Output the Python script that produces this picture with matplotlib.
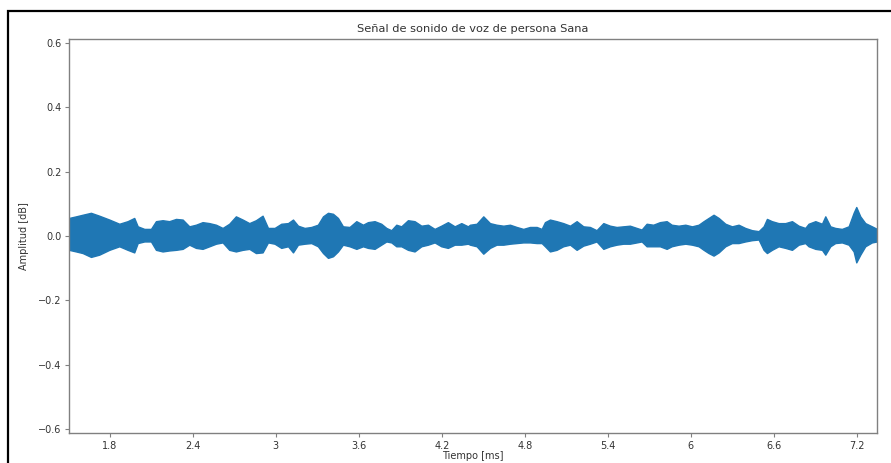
import matplotlib
matplotlib.use("Agg")
import matplotlib.pyplot as plt
from matplotlib.patches import Rectangle

# Time axis (ms) and the amplitude envelope of the recorded voice signal
tiempo = [
    1.504, 1.555, 1.603, 1.663, 1.723, 1.796, 1.868, 1.928, 1.976, 2.001,
    2.049, 2.097, 2.133, 2.181, 2.229, 2.278, 2.326, 2.374, 2.422, 2.470,
    2.519, 2.567, 2.615, 2.663, 2.711, 2.760, 2.808, 2.856, 2.904,
    2.943, 2.991, 3.039, 3.088, 3.124, 3.160, 3.208, 3.256, 3.304, 3.341,
    3.377, 3.413, 3.449, 3.485, 3.533, 3.582, 3.630, 3.666, 3.714, 3.762,
    3.799, 3.835, 3.871, 3.907, 3.955, 4.003, 4.052, 4.100, 4.148, 4.196,
    4.244, 4.293, 4.341, 4.389,
    4.404, 4.452, 4.500, 4.548, 4.596, 4.645, 4.693, 4.741, 4.789, 4.837,
    4.886, 4.922, 4.946, 4.982, 5.030, 5.078, 5.127, 5.175, 5.223, 5.271,
    5.319, 5.368, 5.416, 5.464, 5.512, 5.560, 5.609, 5.645, 5.681, 5.729,
    5.777, 5.826, 5.862,
    5.912, 5.961, 6.009, 6.057, 6.093, 6.129, 6.165, 6.202, 6.250, 6.298,
    6.346, 6.394, 6.443, 6.491, 6.527, 6.551, 6.587, 6.635, 6.684, 6.732,
    6.780, 6.828, 6.852, 6.901, 6.949, 6.973, 7.009, 7.045, 7.093, 7.142,
    7.178, 7.197, 7.226, 7.262, 7.310, 7.347,
]

amplitud_max = [
    0.056, 0.061, 0.066, 0.072, 0.063, 0.051, 0.038, 0.046, 0.056, 0.030,
    0.022, 0.022, 0.046, 0.049, 0.046, 0.053, 0.051, 0.030, 0.035, 0.043,
    0.040, 0.035, 0.025, 0.038, 0.061, 0.051, 0.040, 0.049, 0.063,
    0.025, 0.025, 0.038, 0.040, 0.051, 0.032, 0.025, 0.028, 0.035, 0.061,
    0.072, 0.069, 0.056, 0.030, 0.028, 0.046, 0.035, 0.043, 0.046, 0.038,
    0.025, 0.018, 0.035, 0.030, 0.049, 0.046, 0.032, 0.035, 0.022, 0.032,
    0.043, 0.030, 0.040, 0.030,
    0.035, 0.038, 0.061, 0.040, 0.035, 0.032, 0.035, 0.028, 0.022, 0.028,
    0.028, 0.022, 0.043, 0.051, 0.046, 0.040, 0.032, 0.046, 0.030, 0.028,
    0.018, 0.040, 0.032, 0.028, 0.030, 0.032, 0.025, 0.020, 0.038, 0.035,
    0.043, 0.046, 0.035,
    0.032, 0.035, 0.030, 0.035, 0.046, 0.056, 0.066, 0.056, 0.038, 0.030,
    0.035, 0.025, 0.018, 0.015, 0.030, 0.053, 0.046, 0.040, 0.040, 0.046,
    0.032, 0.025, 0.038, 0.046, 0.038, 0.061, 0.030, 0.025, 0.022, 0.030,
    0.072, 0.090, 0.061, 0.040, 0.030, 0.022,
]

amplitud_min = [
    -0.043, -0.048, -0.053, -0.065, -0.058, -0.043, -0.032, -0.043, -0.051, -0.022,
    -0.017, -0.017, -0.043, -0.048, -0.045, -0.043, -0.040, -0.027, -0.037, -0.040,
    -0.032, -0.024, -0.020, -0.043, -0.048, -0.043, -0.040, -0.053, -0.051,
    -0.020, -0.024, -0.037, -0.032, -0.051, -0.027, -0.024, -0.022, -0.032, -0.053,
    -0.068, -0.063, -0.048, -0.027, -0.032, -0.040, -0.032, -0.037, -0.040, -0.027,
    -0.017, -0.020, -0.032, -0.032, -0.043, -0.048, -0.032, -0.027, -0.020, -0.032,
    -0.037, -0.027, -0.027, -0.024,
    -0.027, -0.032, -0.055, -0.037, -0.027, -0.027, -0.024, -0.022, -0.020, -0.020,
    -0.022, -0.022, -0.032, -0.048, -0.043, -0.032, -0.027, -0.043, -0.030, -0.024,
    -0.017, -0.040, -0.032, -0.027, -0.024, -0.024, -0.020, -0.017, -0.032, -0.032,
    -0.032, -0.040, -0.032,
    -0.027, -0.024, -0.027, -0.032, -0.043, -0.053, -0.061, -0.051, -0.032, -0.022,
    -0.022, -0.017, -0.013, -0.011, -0.043, -0.053, -0.043, -0.032, -0.037, -0.043,
    -0.027, -0.022, -0.032, -0.040, -0.043, -0.058, -0.032, -0.022, -0.020, -0.027,
    -0.048, -0.082, -0.058, -0.032, -0.020, -0.017,
]

xticks = [1.8, 2.4, 3.0, 3.6, 4.2, 4.8, 5.4, 6.0, 6.6, 7.2]
xtick_labels = ["1.8", "2.4", "3", "3.6", "4.2", "4.8", "5.4", "6", "6.6", "7.2"]
yticks = [-0.6, -0.4, -0.2, 0.0, 0.2, 0.4, 0.6]

plt.rcParams["font.family"] = ["DejaVu Sans"]
text_color = "#333333"
spine_color = "#808080"

fig = plt.figure(figsize=(8.91, 4.63), dpi=100)
ax = fig.add_axes([0.0774, 0.0648, 0.9069, 0.851])

color = "#1f77b4"
ax.fill_between(tiempo, amplitud_min, amplitud_max, color=color, linewidth=1.0,
                edgecolor=color)

ax.set_xlim(tiempo[0], tiempo[-1])
ax.set_ylim(-0.612, 0.612)
ax.set_xticks(xticks, xtick_labels)
ax.set_yticks(yticks)

ax.set_title("Señal de sonido de voz de persona Sana", fontsize=8.2, color=text_color, pad=5)
ax.set_xlabel("Tiempo [ms]", fontsize=7, color=text_color, labelpad=0.5)
ax.set_ylabel("Amplitud [dB]", fontsize=7, color=text_color, labelpad=6)

ax.tick_params(axis="both", labelsize=7, colors=text_color, length=3, width=0.8,
               color=spine_color, pad=2.5)
for s in ax.spines.values():
    s.set_color(spine_color)
    s.set_linewidth(1.0)

# outer frame around the figure
frame = Rectangle((8 / 891, -0.1), 1.2, 1.1 - 11 / 463, transform=fig.transFigure,
                  fill=False, edgecolor="black", linewidth=1.6, clip_on=False)
fig.patches.append(frame)

fig.savefig("out.png", dpi=100)
